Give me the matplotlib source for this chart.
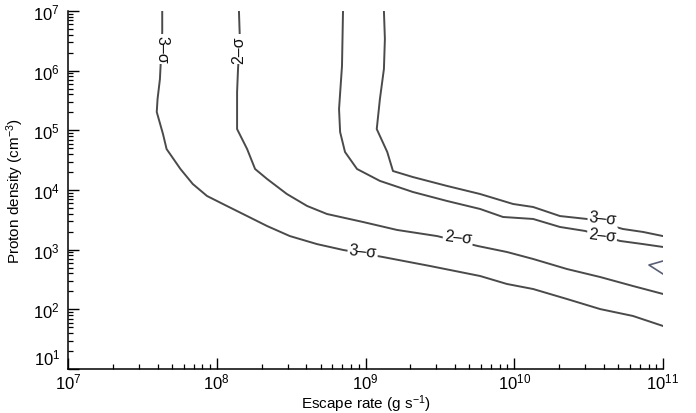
import math
import matplotlib
matplotlib.use("Agg")
import matplotlib.pyplot as plt
from matplotlib.ticker import LogLocator, NullFormatter, FuncFormatter, FixedLocator

plt.rcParams['font.family'] = ['Liberation Sans', 'DejaVu Sans']
plt.rcParams['mathtext.default'] = 'regular'

# Axis ticks
x_ticks = [1e7, 1e8, 1e9, 1e10, 1e11]
y_ticks = [1e1, 1e2, 1e3, 1e4, 1e5, 1e6, 1e7]

# Contour A (3-sigma, left / lower)
a_x = [4.3e7, 4.3e7, 4.15e7, 4.0e7, 3.95e7, 4.35e7, 4.6e7, 5.7e7, 6.9e7, 8.6e7,
       1.10e8, 1.60e8, 2.18e8, 3.10e8, 4.72e8, 7.06e8, 1.31e9, 2.72e9, 5.89e9,
       8.93e9, 1.34e10, 2.26e10, 3.78e10, 6.28e10, 1.0e11]
a_y = [1.0e7, 4.45e6, 7.24e5, 3.35e5, 2.03e5, 8.69e4, 4.86e4, 2.25e4, 1.26e4, 7.94e3,
       5.83e3, 3.66e3, 2.49e3, 1.69e3, 1.24e3, 9.9e2, 7.53e2, 5.32e2, 3.62e2,
       2.66e2, 2.19e2, 1.49e2, 1.01e2, 77.4, 52.6]

# Contour B (2-sigma, left / lower)
b_x = [1.41e8, 1.43e8, 1.39e8, 1.37e8, 1.37e8, 1.60e8, 1.81e8, 2.18e8, 2.96e8, 4.05e8,
       5.51e8, 9.62e8, 1.63e9, 3.03e9, 5.70e9, 8.93e9, 1.34e10, 2.26e10, 3.78e10,
       6.28e10, 1.0e11]
b_y = [1.0e7, 3.40e6, 1.07e6, 4.40e5, 1.05e5, 4.86e4, 2.25e4, 1.53e4, 8.57e3, 5.40e3,
       3.96e3, 2.91e3, 2.14e3, 1.69e3, 1.15e3, 9.14e2, 6.98e2, 4.74e2, 3.48e2,
       2.46e2, 1.81e2]

# Contour C (2-sigma, right / upper)
c_x = [7.06e8, 6.95e8, 6.64e8, 6.75e8, 7.28e8, 8.77e8, 1.25e9, 2.08e9, 3.53e9, 5.89e9,
       8.40e9, 1.34e10, 2.03e10, 2.99e10, 5.14e10, 7.35e10, 1.0e11]
c_y = [1.0e7, 1.20e6, 2.28e5, 9.38e4, 4.34e4, 2.25e4, 1.42e4, 9.27e3, 6.55e3, 4.81e3,
       3.53e3, 3.27e3, 2.40e3, 2.06e3, 1.40e3, 1.24e3, 1.11e3]

# Contour D (3-sigma, right / upper)
d_x = [1.33e9, 1.35e9, 1.33e9, 1.25e9, 1.19e9, 1.40e9, 1.53e9, 2.08e9, 3.53e9, 5.89e9,
       9.82e9, 1.34e10, 2.03e10, 3.08e10, 5.38e10, 7.35e10, 1.0e11]
d_y = [1.0e7, 3.40e6, 1.07e6, 3.35e5, 1.05e5, 4.34e4, 2.08e4, 1.65e4, 1.17e4, 8.57e3,
       5.83e3, 5.19e3, 3.66e3, 3.27e3, 2.22e3, 1.98e3, 1.69e3]

# Small closed contour piece at the right edge
e_x = [1.0e11, 8.05e10, 1.0e11]
e_y = [6.46e2, 5.53e2, 3.91e2]

# Contour labels: text, x, y, rotation
lab_text = ['3–σ', '2–σ', '3–σ', '2–σ', '3–σ', '2–σ']
lab_x = [4.3e7, 1.41e8, 9.6e8, 4.19e9, 3.95e10, 3.9e10]
lab_y = [2.3e6, 2.3e6, 9.5e2, 1.63e3, 3.40e3, 1.76e3]
lab_rot = [-90, 90, -6, -6, -6, -6]

fig = plt.figure(figsize=(6.96, 4.14), dpi=100)
ax = fig.add_axes([68/696, 1-370/414, (663-68)/696, (370-12)/414])

lc = '#4a4a4a'
for xs, ys in [(a_x, a_y), (b_x, b_y), (c_x, c_y), (d_x, d_y)]:
    ax.plot(xs, ys, color=lc, lw=1.4, solid_joinstyle='round')
ax.plot(e_x, e_y, color='#5a5f78', lw=1.2)

for t, x, y, r in zip(lab_text, lab_x, lab_y, lab_rot):
    ax.text(x, y, t, rotation=r, ha='center', va='center', fontsize=11.5,
            color='#111111', rotation_mode='anchor',
            bbox=dict(facecolor='white', edgecolor='none', pad=1.0))

ax.set_xscale('log')
ax.set_yscale('log')
ax.set_xlim(x_ticks[0], x_ticks[-1])
ax.set_ylim(y_ticks[0], y_ticks[-1])

for s in ['top', 'right']:
    ax.spines[s].set_visible(False)
for s in ['left', 'bottom']:
    ax.spines[s].set_linewidth(1.1)

ax.xaxis.set_major_locator(FixedLocator(x_ticks))
ax.yaxis.set_major_locator(FixedLocator(y_ticks))
ax.xaxis.set_minor_locator(LogLocator(base=10, subs=range(2, 10), numticks=100))
ax.yaxis.set_minor_locator(LogLocator(base=10, subs=range(2, 10), numticks=100))
ax.xaxis.set_minor_formatter(NullFormatter())
ax.yaxis.set_minor_formatter(NullFormatter())


def xfmt(v, pos):
    return '$10^{%d}$' % int(round(math.log10(v)))


def yfmt(v, pos):
    e = int(round(math.log10(v)))
    if e == 1:
        return ''
    return '$10^{%d}$' % e


ax.xaxis.set_major_formatter(FuncFormatter(xfmt))
ax.yaxis.set_major_formatter(FuncFormatter(yfmt))

ax.tick_params(which='major', direction='in', length=8, width=1.0, labelsize=12, pad=2)
ax.tick_params(which='minor', direction='in', length=3.5, width=0.9)
ax.tick_params(axis='y', which='major', pad=6)

# bottom y tick label drawn slightly raised, as in the original
ax.text(-0.0125, 0.036, '$10^{1}$', transform=ax.transAxes, ha='right',
        va='center_baseline', fontsize=12)

ax.set_xlabel('Escape rate (g s$^{-1}$)', fontsize=11)
ax.set_ylabel('Proton density (cm$^{-3}$)', fontsize=11)
ax.xaxis.set_label_coords(0.5, -0.066)
ax.yaxis.set_label_coords(-0.07, 0.5)

fig.savefig('out.png', dpi=100)
